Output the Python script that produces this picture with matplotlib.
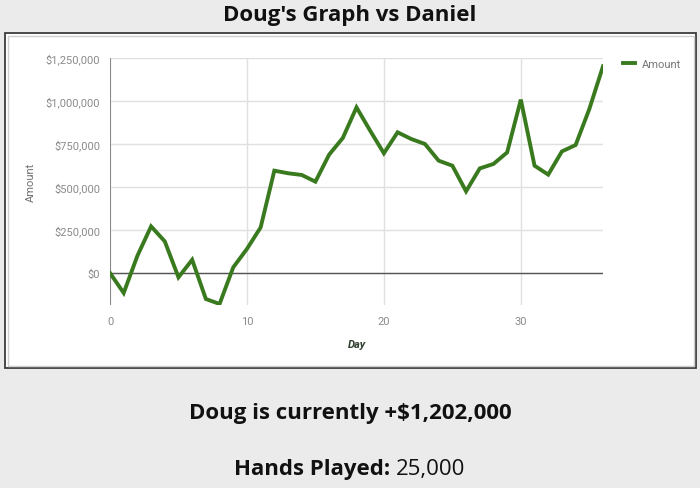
import matplotlib
matplotlib.use("Agg")
import matplotlib.pyplot as plt
from matplotlib.patches import Rectangle
from matplotlib.ticker import FuncFormatter

days = list(range(37))
amount = [0, -116000, 100000, 271000, 184000, -25000, 77000, -151000, -180000, 33000,
          140000, 265000, 595000, 580000, 570000, 531000, 688000, 785000, 963000, 827000,
          696000, 818000, 779000, 750000, 653000, 624000, 475000, 608000, 634000, 701000,
          1008000, 624000, 572000, 707000, 744000, 953000, 1202000]
y_ticks = [0, 250000, 500000, 750000, 1000000, 1250000]
x_ticks = [0, 10, 20, 30]

title = "Doug's Graph vs Daniel"
summary = "Doug is currently +$1,202,000"
hands_label = "Hands Played: "
hands_value = "25,000"

bg = "#ebebeb"
green = "#3a7a1f"

fig = plt.figure(figsize=(7, 4.89), dpi=100, facecolor=bg)

# white chart box with double border
fig.patches.append(Rectangle((5 / 700, 1 - 369 / 489), 691 / 700, 335 / 489,
                             transform=fig.transFigure, facecolor="white",
                             edgecolor="#3c3c3c", linewidth=1.3, zorder=-2))
fig.patches.append(Rectangle((8 / 700, 1 - 366.5 / 489), 686 / 700, 330 / 489,
                             transform=fig.transFigure, facecolor="none",
                             edgecolor="#cfcfcf", linewidth=1.0, zorder=-1))

ax = fig.add_axes([110 / 700, 1 - 306 / 489, 493 / 700, 247 / 489])
ax.set_facecolor("white")
ax.plot(days, amount, color=green, linewidth=2.8, label="Amount",
        solid_joinstyle="miter", zorder=3)

ax.set_xlim(0, 36)
ax.set_ylim(-186000, 1250000)
ax.set_xticks(x_ticks)
ax.set_yticks(y_ticks)
ax.yaxis.set_major_formatter(FuncFormatter(lambda v, p: "${:,.0f}".format(v)))
ax.grid(True, color="#e0e0e0", linewidth=1.0, zorder=0)
ax.axhline(0, color="#555555", linewidth=1.0, zorder=2)
ax.axvline(0, color="#777777", linewidth=1.2, zorder=2)
for s in ax.spines.values():
    s.set_visible(False)
ax.tick_params(length=0, labelsize=8, labelcolor="#8a8a8a", pad=7)
for lab in ax.get_xticklabels() + ax.get_yticklabels():
    lab.set_fontfamily("Roboto")
ax.tick_params(axis="x", pad=8)

ax.set_xlabel("Day", fontfamily="Roboto", fontsize=8, fontstyle="italic",
              fontweight="bold", color="#2f3f2f", labelpad=9)
ax.set_ylabel("Amount", fontfamily="Roboto", fontsize=8, color="#707070", labelpad=7)

leg = ax.legend(loc="upper left", bbox_to_anchor=(1.02, 1.035), frameon=False,
                handlelength=1.1, handletextpad=0.6, prop={"family": "Roboto", "size": 8})
for t in leg.get_texts():
    t.set_color("#777777")

fig.text(0.5, 1 - 15 / 489, title, ha="center", va="center", fontfamily="Open Sans",
         fontweight="bold", fontsize=16, color="#111111")
fig.text(0.5, 1 - 413 / 489, summary, ha="center", va="center", fontfamily="Open Sans",
         fontweight="bold", fontsize=16, color="#111111")

# mixed-weight line: measure the parts, then centre the pair
t1 = fig.text(0, 1 - 470 / 489, hands_label, ha="left", va="center", fontfamily="Open Sans",
              fontweight="bold", fontsize=16, color="#111111")
t2 = fig.text(0, 1 - 470 / 489, hands_value, ha="left", va="center", fontfamily="Open Sans",
              fontsize=16, color="#111111")
fig.canvas.draw()
r = fig.canvas.get_renderer()
w1 = t1.get_window_extent(r).width / 700
w2 = t2.get_window_extent(r).width / 700
x0 = 0.5 - (w1 + w2) / 2
t1.set_x(x0)
t2.set_x(x0 + w1)

fig.savefig("out.png", dpi=100, facecolor=bg)
